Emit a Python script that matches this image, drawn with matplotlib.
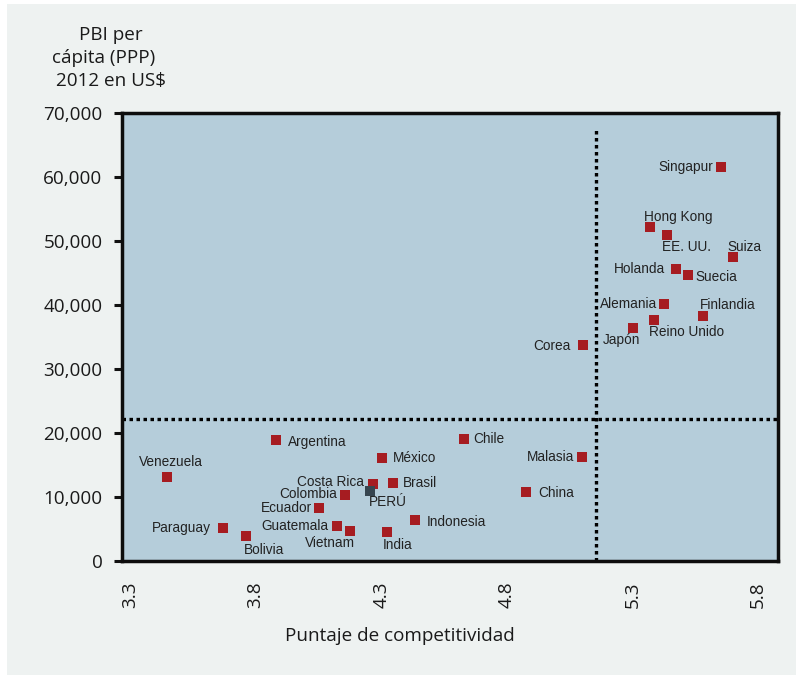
import matplotlib
matplotlib.use("Agg")
import matplotlib.pyplot as plt
from matplotlib.patches import Rectangle

# ---- data ----
countries = ["Singapur", "Hong Kong", "EE. UU.", "Suiza", "Holanda", "Suecia",
             "Alemania", "Finlandia", "Reino Unido", "Japón", "Corea", "Malasia",
             "China", "Argentina", "Chile", "Venezuela", "México", "Costa Rica",
             "Brasil", "PERÚ", "Colombia", "Ecuador", "Paraguay", "Bolivia",
             "Guatemala", "Vietnam", "India", "Indonesia"]
score = [5.655, 5.370, 5.438, 5.699, 5.472, 5.521,
         5.428, 5.580, 5.386, 5.302, 5.102, 5.099,
         4.876, 3.881, 4.628, 3.446, 4.303, 4.267,
         4.347, 4.255, 4.156, 4.051, 3.670, 3.762,
         4.124, 4.176, 4.323, 4.434]
gdp = [61500, 52250, 51000, 47550, 45700, 44750,
       40200, 38350, 37700, 36450, 33800, 16250,
       10750, 18900, 19050, 13200, 16100, 12050,
       12150, 10900, 10300, 8250, 5100, 3850,
       5500, 4650, 4500, 6350]
# label placement: (ha, dx px, dy px)  dy positive = up
label_pos = [("right", -8, 0), ("left", -6, 10), ("left", -5, -12), ("left", -5, 10),
             ("right", -10, 0), ("left", 8, -2), ("right", -7, 0), ("left", -3, 11),
             ("left", -5, -12), ("left", -30, -12), ("right", -12, -1), ("right", -8, 0),
             ("left", 12, -1), ("left", 12, -2), ("left", 10, 0), ("center", 4, 15),
             ("left", 11, 0), ("right", -9, 2), ("left", 10, 0), ("left", -1, -11),
             ("right", -8, 1), ("right", -7, 0), ("right", -12, 0), ("left", -2, -14),
             ("right", -8, 0), ("left", -45, -12), ("left", -4, -13), ("left", 12, -2)]

xticks = [3.3, 3.8, 4.3, 4.8, 5.3, 5.8]
xticklabels = ["3.3", "3.8", "4.3", "4.8", "5.3", "5.8"]
yticks = [0, 10000, 20000, 30000, 40000, 50000, 60000, 70000]
yticklabels = ["0", "10,000", "20,000", "30,000", "40,000", "50,000", "60,000", "70,000"]
h_line = 22200
v_line = 5.156
v_line_top = 67800

RED = "#a61c21"
PERU = "#36454f"
AX_FONT = "Open Sans"
LBL_FONT = "Liberation Sans"
AX_SIZE = 13.6

fig = plt.figure(figsize=(7.96, 6.75), dpi=100)
fig.patch.set_facecolor("white")
fig.patches.append(Rectangle((7 / 796, 0), 1 - 7 / 796, 1 - 4 / 675, transform=fig.transFigure,
                             facecolor="#eef2f1", edgecolor="none", zorder=-10))

ax = fig.add_axes([122 / 796, (675 - 561) / 675, (778 - 122) / 796, (561 - 113) / 675])
ax.set_facecolor("#b5cdda")
ax.set_xlim(3.268, 5.880)
ax.set_ylim(0, 70000)

for s in ax.spines.values():
    s.set_linewidth(2.5)
    s.set_color("#0d0d0d")

ax.axhline(h_line, color="black", lw=2.4, linestyle=(0, (1.05, 1.05)), zorder=2)
ax.plot([v_line, v_line], [0, v_line_top], color="black", lw=2.4,
        linestyle=(0, (1.05, 1.05)), zorder=2)

colors = [PERU if c == "PERÚ" else RED for c in countries]
ax.scatter(score, gdp, marker="s", s=52, c=colors, linewidths=0, zorder=3)

for c, x, y, (ha, dx, dy) in zip(countries, score, gdp, label_pos):
    ax.annotate(c, (x, y), xytext=(dx * 0.72, dy * 0.72), textcoords="offset points",
                ha=ha, va="center", fontsize=9.8, family=LBL_FONT, color="#222222", zorder=4)

ax.set_xticks(xticks)
ax.set_xticklabels(xticklabels, rotation=90, family=AX_FONT, fontsize=AX_SIZE, color="#1a1a1a")
ax.set_yticks(yticks)
ax.set_yticklabels(yticklabels, family=AX_FONT, fontsize=AX_SIZE, color="#1a1a1a")
ax.tick_params(axis="x", length=0, pad=15)
ax.tick_params(axis="y", length=6, width=2.2, pad=8, color="#111111")

fig.text(400 / 796, 1 - 636 / 675, "Puntaje de competitividad", ha="center", va="center",
         family=AX_FONT, fontsize=AX_SIZE, color="#1a1a1a")
for txt, cx, cy in [("PBI per", 111, 35), ("cápita (PPP)", 104, 58), ("2012 en US$", 111, 81)]:
    fig.text(cx / 796, 1 - cy / 675, txt, ha="center", va="center",
             family=AX_FONT, fontsize=AX_SIZE, color="#1a1a1a")

fig.savefig("out.png", dpi=100, facecolor=fig.get_facecolor())
